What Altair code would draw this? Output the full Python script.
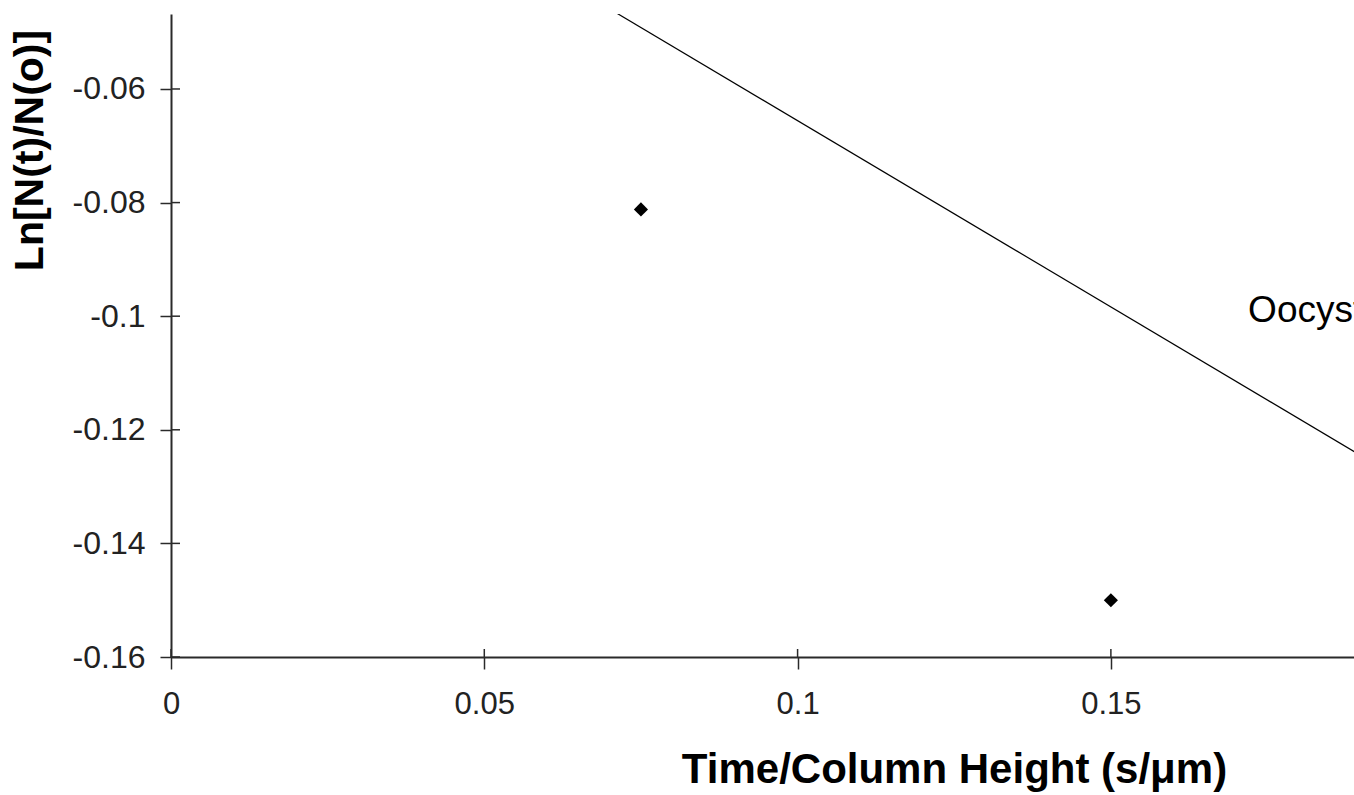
import altair as alt
import pandas as pd

# Data
point_x = [0.075, 0.150]
point_y = [-0.0812, -0.150]

fit_x = [0.0, 0.19]
fit_y = [0.0, -0.1246]

label_text = ["Oocyst"]
label_x = [0.1719]
label_y = [-0.1010]

x_ticks = [0, 0.05, 0.1, 0.15]
y_ticks = [-0.16, -0.14, -0.12, -0.1, -0.08, -0.06]

X_DOMAIN = [0, 0.1888]
Y_DOMAIN = [-0.16, -0.0468]

W, H = 1183, 643
AX = "#2a2a2a"
FONT = "Liberation Sans"

pts = pd.DataFrame({"x": point_x, "y": point_y})
fit = pd.DataFrame({"x": fit_x, "y": fit_y})
lab = pd.DataFrame({"x": label_x, "y": label_y, "t": label_text})
xt = pd.DataFrame({"v": x_ticks})
yt = pd.DataFrame({"v": y_ticks})

xscale = alt.Scale(domain=X_DOMAIN, nice=False, zero=False)
yscale = alt.Scale(domain=Y_DOMAIN, nice=False, zero=False)

xaxis = alt.Axis(
    title="Time/Column Height (s/\u03bcm)",
    values=x_ticks,
    labelExpr="'' + datum.value",
    grid=False,
    domainColor=AX, domainWidth=2,
    tickColor=AX, tickWidth=1.5, tickSize=12,
    labelFont=FONT, labelFontSize=31, labelColor="#222", labelPadding=20,
    labelFlush=False, labelOverlap=False,
    titleFont=FONT, titleFontSize=42, titleFontWeight="bold", titleColor="#000",
    titleX=783, titleY=125, titleAlign="center", titleBaseline="alphabetic",
)
yaxis = alt.Axis(
    title="Ln[N(t)/N(o)]",
    values=y_ticks,
    labelExpr="'' + datum.value",
    grid=False,
    domainColor=AX, domainWidth=2,
    tickColor=AX, tickWidth=1.5, tickSize=11,
    labelFont=FONT, labelFontSize=32, labelColor="#222", labelPadding=15,
    labelFlush=False, labelOverlap=False,
    titleFont=FONT, titleFontSize=41, titleFontWeight="bold", titleColor="#000",
    titleX=-129, titleY=136, titleAlign="center", titleBaseline="alphabetic", titleAngle=270,
)

line = alt.Chart(fit).mark_line(color="#000", strokeWidth=1.2, clip=True).encode(
    x=alt.X("x:Q", scale=xscale, axis=xaxis),
    y=alt.Y("y:Q", scale=yscale, axis=yaxis),
)

points = alt.Chart(pts).mark_point(
    shape="diamond", filled=True, color="#000", size=200, opacity=1
).encode(
    x=alt.X("x:Q", scale=xscale),
    y=alt.Y("y:Q", scale=yscale),
)

text = alt.Chart(lab).mark_text(
    align="left", baseline="alphabetic", font=FONT, fontSize=37, color="#000", clip=True
).encode(
    x=alt.X("x:Q", scale=xscale),
    y=alt.Y("y:Q", scale=yscale),
    text="t:N",
)

# inner halves of the crossing tick marks
ytick_in = alt.Chart(yt).mark_rule(color=AX, strokeWidth=1.5).encode(
    y=alt.Y("v:Q", scale=yscale),
    x=alt.value(0),
    x2=alt.value(9),
)
xtick_in = alt.Chart(xt).mark_rule(color=AX, strokeWidth=1.5).encode(
    x=alt.X("v:Q", scale=xscale),
    y=alt.value(H),
    y2=alt.value(H - 8),
)

chart = alt.layer(line, points, text, ytick_in, xtick_in).properties(
    width=W,
    height=H,
    autosize=alt.AutoSizeParams(type="none"),
    padding={"left": 171, "top": 14, "right": 0, "bottom": 138},
    background="#ffffff",
).configure_view(stroke=None)

chart.save("out.html", embed_options={"renderer": "svg", "actions": False})
